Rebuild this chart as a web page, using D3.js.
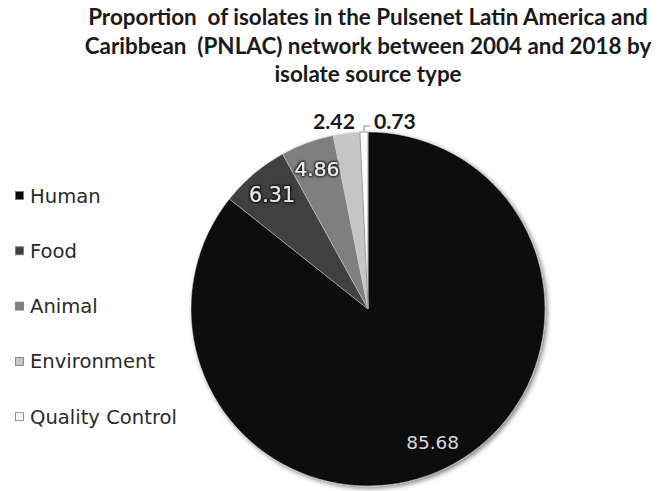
<!DOCTYPE html>
<html>
<head>
<meta charset="utf-8">
<script src="https://cdn.jsdelivr.net/npm/d3@7"></script>
<style>
  html, body { margin: 0; padding: 0; background: #fff; }
  svg { display: block; }
  text { white-space: pre; }
</style>
</head>
<body>
<svg id="chart" width="661" height="491"></svg>
<script>
// ---- data ----
const titleLines = [
  "Proportion  of isolates in the Pulsenet Latin America and",
  "Caribbean  (PNLAC) network between 2004 and 2018 by",
  "isolate source type"
];
const categories = ["Human", "Food", "Animal", "Environment", "Quality Control"];
const values = [85.68, 6.31, 4.86, 2.42, 0.73];
const valueLabels = ["85.68", "6.31", "4.86", "2.42", "0.73"];
const sliceColors = ["#080808", "#3f3f3f", "#7f7f7f", "#c6c6c6", "#fbfbfb"];

// ---- layout ----
const svg = d3.select("#chart");
const cx = 368, cy = 309, R = 177;

function fitWidth(sel, target) {
  const w = sel.node().getComputedTextLength();
  const fs = parseFloat(sel.attr("font-size"));
  sel.attr("font-size", fs * target / w);
  return fs * target / w;
}

// title
const title = svg.append("g");
const t0 = title.append("text")
  .attr("x", cx).attr("y", 25)
  .attr("text-anchor", "middle")
  .attr("font-family", "Lato, 'Open Sans', sans-serif")
  .attr("font-weight", "bold")
  .attr("font-size", 20)
  .attr("fill", "#1a1a1a")
  .text(titleLines[0]);
const tfs = fitWidth(t0, 560);
titleLines.slice(1).forEach((line, i) => {
  title.append("text")
    .attr("x", cx).attr("y", 25 + (i + 1) * 28.5)
    .attr("text-anchor", "middle")
    .attr("font-family", "Lato, 'Open Sans', sans-serif")
    .attr("font-weight", "bold")
    .attr("font-size", tfs)
    .attr("fill", "#1a1a1a")
    .text(line);
});

// filters
const defs = svg.append("defs");
const f = defs.append("filter").attr("id", "shadow")
  .attr("x", "-20%").attr("y", "-20%").attr("width", "140%").attr("height", "140%");
f.append("feGaussianBlur").attr("in", "SourceAlpha").attr("stdDeviation", 2.5).attr("result", "blur");
f.append("feOffset").attr("in", "blur").attr("dx", 2).attr("dy", 2).attr("result", "off");
f.append("feComponentTransfer").attr("in", "off").attr("result", "offA")
  .append("feFuncA").attr("type", "linear").attr("slope", 0.5);
const fm = f.append("feMerge");
fm.append("feMergeNode").attr("in", "offA");
fm.append("feMergeNode").attr("in", "SourceGraphic");

const tf = defs.append("filter").attr("id", "textglow")
  .attr("x", "-20%").attr("y", "-30%").attr("width", "140%").attr("height", "160%");
tf.append("feMorphology").attr("in", "SourceAlpha").attr("operator", "dilate").attr("radius", 0.8).attr("result", "dil");
tf.append("feGaussianBlur").attr("in", "dil").attr("stdDeviation", 0.8).attr("result", "bl");
tf.append("feComponentTransfer").attr("in", "bl").attr("result", "blA")
  .append("feFuncA").attr("type", "linear").attr("slope", 0.8);
const tfm = tf.append("feMerge");
tfm.append("feMergeNode").attr("in", "blA");
tfm.append("feMergeNode").attr("in", "SourceGraphic");

// pie
const data = categories.map((c, i) => ({ cat: c, value: values[i], label: valueLabels[i], color: sliceColors[i] }));
const pie = d3.pie().sort(null).value(d => d.value).startAngle(0).endAngle(2 * Math.PI);
const arcs = pie(data);
const arc = d3.arc().innerRadius(0).outerRadius(R);
const labelArc = d3.arc().innerRadius(R * 0.84).outerRadius(R * 0.84);

const g = svg.append("g").attr("transform", `translate(${cx},${cy})`);
g.append("g").attr("filter", "url(#shadow)")
  .selectAll("path").data(arcs).join("path")
  .attr("d", arc)
  .attr("fill", d => d.data.color)
  .attr("stroke", (d, i) => i === 4 ? "#9a9a9a" : "#d8d8d8")
  .attr("stroke-width", (d, i) => i === 4 ? 1 : 0.5)
  .attr("stroke-linejoin", "round");

// inside labels (Human, Food, Animal)
const insideStyle = [
  { fill: "#d9d9d9", glow: false, width: 53 },
  { fill: "#e8e8e8", glow: true, width: 46 },
  { fill: "#eeeeee", glow: true, width: 45 }
];
arcs.slice(0, 3).forEach((a, i) => {
  const [lx, ly] = labelArc.centroid(a);
  const st = insideStyle[i];
  const t = g.append("text")
    .attr("x", lx).attr("y", ly)
    .attr("text-anchor", "middle")
    .attr("dominant-baseline", "central")
    .attr("font-family", "'DejaVu Sans', 'Noto Sans', sans-serif")
    .attr("font-size", 18)
    .attr("fill", st.fill)
    .attr("filter", st.glow ? "url(#textglow)" : null)
    .text(a.data.label);
  fitWidth(t, st.width);
});

// outside labels (Environment, Quality Control)
const qc = arcs[4];
const qcMid = (qc.startAngle + qc.endAngle) / 2;
const qx = Math.sin(qcMid) * R, qy = -Math.cos(qcMid) * R;
const elbowY = qy - 6;
g.append("path")
  .attr("d", `M${qx},${qy - 1}L${qx},${elbowY}L${qx + 6},${elbowY}`)
  .attr("fill", "none").attr("stroke", "#888").attr("stroke-width", 1);
const tq = g.append("text")
  .attr("x", qx + 10).attr("y", elbowY - 5)
  .attr("dominant-baseline", "central")
  .attr("font-family", "Lato, 'Open Sans', sans-serif")
  .attr("font-weight", "bold")
  .attr("font-size", 20)
  .attr("fill", "#1a1a1a")
  .text(qc.data.label);
fitWidth(tq, 42);
const env = arcs[3];
const te = g.append("text")
  .attr("x", qx - 9).attr("y", elbowY - 5)
  .attr("text-anchor", "end")
  .attr("dominant-baseline", "central")
  .attr("font-family", "Lato, 'Open Sans', sans-serif")
  .attr("font-weight", "bold")
  .attr("font-size", 20)
  .attr("fill", "#1a1a1a")
  .text(env.data.label);
fitWidth(te, 42);

// legend
const legend = svg.append("g").attr("transform", "translate(15,196)");
const legRows = legend.selectAll("g").data(data).join("g")
  .attr("transform", (d, i) => `translate(0,${i * 55.3})`);
legRows.append("rect")
  .attr("x", 0.5).attr("y", -4.5).attr("width", 8).attr("height", 8)
  .attr("fill", d => d.color)
  .attr("stroke", "#777").attr("stroke-width", 0.8);
const legTexts = legRows.append("text")
  .attr("x", 15).attr("y", 0)
  .attr("dominant-baseline", "central")
  .attr("font-family", "'DejaVu Sans', 'Noto Sans', sans-serif")
  .attr("font-size", 18)
  .attr("fill", "#2a2a2a")
  .text(d => d.cat);
const longest = legTexts.filter(d => d.cat === "Quality Control");
const lfs = fitWidth(longest, 147);
legTexts.attr("font-size", lfs);
</script>
</body>
</html>
